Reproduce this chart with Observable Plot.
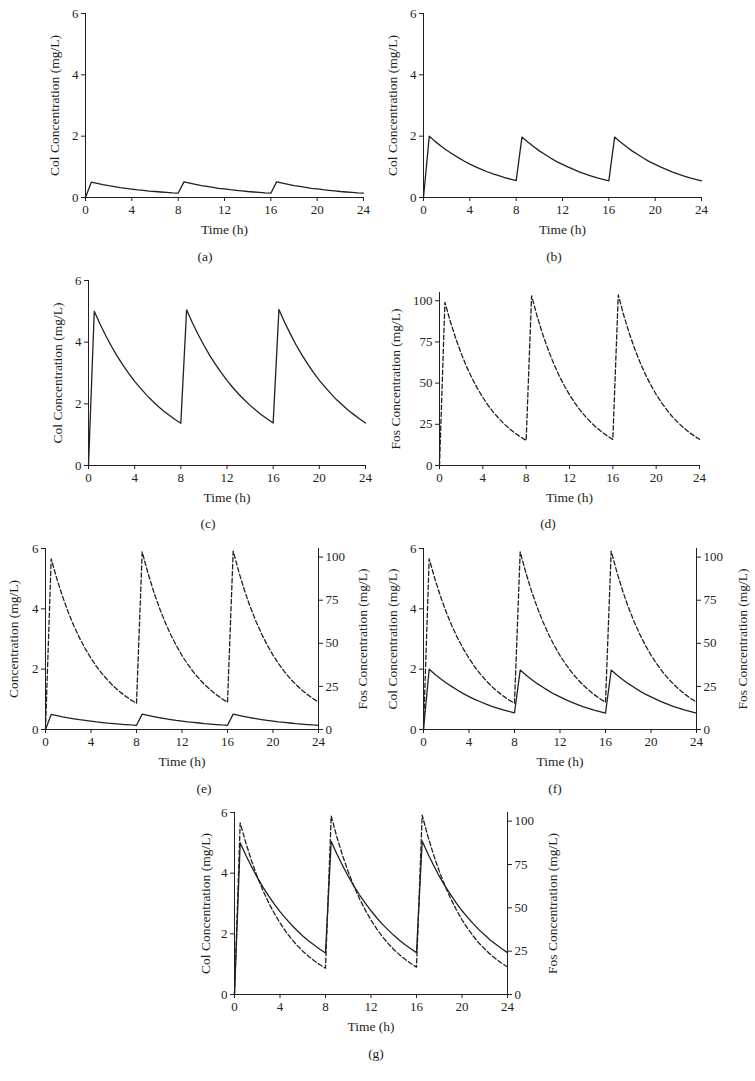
<!DOCTYPE html>
<html><head><meta charset="utf-8">
<script src="https://cdn.jsdelivr.net/npm/d3@7"></script>
<script src="https://cdn.jsdelivr.net/npm/@observablehq/plot@0.6"></script>
<style>
html,body{margin:0;padding:0;background:#fff;overflow:hidden;}
#fig{position:relative;width:755px;height:1081px;overflow:hidden;font-family:"Liberation Serif","Times New Roman",serif;color:#231f20;}
.cap{position:absolute;font-size:13.5px;transform:translate(-50%,-50%);white-space:nowrap;}
</style></head><body><div id="fig"></div>
<script>
const hours = [0,0.5,1,1.5,2,2.5,3,3.5,4,4.5,5,5.5,6,6.5,7,7.5,8,8.5,9,9.5,10,10.5,11,11.5,12,12.5,13,13.5,14,14.5,15,15.5,16,16.5,17,17.5,18,18.5,19,19.5,20,20.5,21,21.5,22,22.5,23,23.5,24];
const colLow = [0,0.50,0.46,0.42,0.385,0.355,0.325,0.30,0.275,0.25,0.23,0.21,0.195,0.18,0.165,0.15,0.14,0.51,0.47,0.43,0.39,0.36,0.33,0.30,0.28,0.255,0.235,0.215,0.195,0.18,0.165,0.15,0.14,0.51,0.47,0.43,0.39,0.36,0.33,0.30,0.28,0.255,0.235,0.215,0.195,0.18,0.165,0.15,0.14];
const colMid = [0,2.00,1.83,1.68,1.54,1.42,1.30,1.19,1.09,1.00,0.92,0.84,0.77,0.71,0.65,0.60,0.55,1.97,1.81,1.66,1.52,1.40,1.28,1.17,1.08,0.99,0.91,0.83,0.76,0.70,0.64,0.59,0.54,1.97,1.81,1.66,1.52,1.40,1.28,1.17,1.08,0.99,0.91,0.83,0.76,0.70,0.64,0.59,0.54];
const colHigh = [0,5.00,4.59,4.21,3.86,3.54,3.25,2.98,2.73,2.51,2.30,2.11,1.93,1.77,1.63,1.49,1.37,5.05,4.63,4.25,3.90,3.57,3.28,3.01,2.76,2.53,2.32,2.13,1.95,1.79,1.64,1.51,1.38,5.06,4.64,4.26,3.90,3.58,3.29,3.01,2.76,2.54,2.33,2.13,1.96,1.79,1.65,1.51,1.38];
const fos = [0,99,87.4,77.1,68.0,60.0,53.0,46.8,41.3,36.4,32.1,28.4,25.0,22.1,19.5,17.2,15.2,103,90.9,80.2,70.8,62.5,55.1,48.7,42.9,37.9,33.4,29.5,26.0,23.0,20.3,17.9,15.8,103.5,91.3,80.6,71.1,62.8,55.4,48.9,43.1,38.1,33.6,29.6,26.2,23.1,20.4,18.0,15.9];
const timeTicks = [0,4,8,12,16,20,24];
const colTicks = [0,2,4,6];
const fosTicks = [0,25,50,75,100];
const colDomain = [0,6];
const fosDomain = [0,105];
const xLabel = "Time (h)";
const colLabel = "Col Concentration (mg/L)";
const concLabel = "Concentration (mg/L)";
const fosLabel = "Fos Concentration (mg/L)";

const fig = document.getElementById("fig");
const INK = "#231f20";
const FONT = '"Liberation Serif", "Times New Roman", serif';
const mL = 60, mR = 60, mT = 10, mB = 50;
const fmt = d => String(d);

function layer(o) {
  const data = hours.map((t, i) => ({t, v: o.values[i]}));
  const marks = [];
  marks.push(Plot.ruleX([o.anchor === "right" ? 24 : 0], {stroke: INK, strokeWidth: 1}));
  if (o.xAxis) {
    marks.push(Plot.ruleY([0], {stroke: INK, strokeWidth: 1}));
    marks.push(Plot.axisX({ticks: timeTicks, tickFormat: fmt, tickSize: 4, tickPadding: 3, label: null, fontSize: 13}));
    marks.push(Plot.text([xLabel], {frameAnchor: "bottom", textAnchor: "middle", dy: 36, fontSize: 13.5, fill: INK}));
  }
  marks.push(Plot.axisY({anchor: o.anchor, ticks: o.ticks, tickFormat: fmt, tickSize: 4, tickPadding: 3, label: null, fontSize: 13}));
  marks.push(Plot.line(data, {x: "t", y: "v", stroke: INK, strokeWidth: 1.3, strokeDasharray: o.dashed ? "4.5,2.5" : null}));
  marks.push(Plot.text([o.yLabel], {frameAnchor: o.anchor, textAnchor: "middle", rotate: -90, dx: o.labelOff, fontSize: 13.5, fill: INK}));
  const svg = Plot.plot({
    width: o.w + mL + mR, height: o.h + mT + mB,
    marginLeft: mL, marginRight: mR, marginTop: mT, marginBottom: mB,
    x: {domain: [0, 24], axis: o.xAxis ? undefined : null},
    y: {domain: o.domain},
    style: {background: "transparent", color: INK, fontFamily: FONT, fontSize: "13px", overflow: "visible"},
    marks
  });
  svg.setAttribute("font-family", FONT);
  svg.style.position = "absolute";
  svg.style.left = (o.x - mL) + "px";
  svg.style.top = (o.y - mT) + "px";
  svg.style.maxWidth = "none";
  fig.appendChild(svg);
}

function caption(text, x, y) {
  const d = document.createElement("div");
  d.className = "cap";
  d.textContent = text;
  d.style.left = x + "px";
  d.style.top = y + "px";
  fig.appendChild(d);
}

// (a)
layer({x: 85, y: 13, w: 278, h: 184, domain: colDomain, ticks: colTicks, anchor: "left", values: colLow, yLabel: colLabel, labelOff: -31, xAxis: true});
caption("(a)", 205, 257);
// (b)
layer({x: 423, y: 13, w: 278, h: 184, domain: colDomain, ticks: colTicks, anchor: "left", values: colMid, yLabel: colLabel, labelOff: -31, xAxis: true});
caption("(b)", 554, 257);
// (c)
layer({x: 88, y: 280, w: 277, h: 185, domain: colDomain, ticks: colTicks, anchor: "left", values: colHigh, yLabel: colLabel, labelOff: -31, xAxis: true});
caption("(c)", 208, 524);
// (d)
layer({x: 439, y: 292, w: 260, h: 173, domain: fosDomain, ticks: fosTicks, anchor: "left", values: fos, dashed: true, yLabel: fosLabel, labelOff: -44, xAxis: true});
caption("(d)", 548, 524);
// (e)
layer({x: 45, y: 548, w: 273, h: 181, domain: colDomain, ticks: colTicks, anchor: "left", values: colLow, yLabel: concLabel, labelOff: -32, xAxis: true});
layer({x: 45, y: 548, w: 273, h: 181, domain: fosDomain, ticks: fosTicks, anchor: "right", values: fos, dashed: true, yLabel: fosLabel, labelOff: 44, xAxis: false});
caption("(e)", 204, 789);
// (f)
layer({x: 423, y: 548, w: 273, h: 181, domain: colDomain, ticks: colTicks, anchor: "left", values: colMid, yLabel: colLabel, labelOff: -31, xAxis: true});
layer({x: 423, y: 548, w: 273, h: 181, domain: fosDomain, ticks: fosTicks, anchor: "right", values: fos, dashed: true, yLabel: fosLabel, labelOff: 46, xAxis: false});
caption("(f)", 555, 789);
// (g)
layer({x: 234, y: 812, w: 273, h: 182, domain: colDomain, ticks: colTicks, anchor: "left", values: colHigh, yLabel: colLabel, labelOff: -29, xAxis: true});
layer({x: 234, y: 812, w: 273, h: 182, domain: fosDomain, ticks: fosTicks, anchor: "right", values: fos, dashed: true, yLabel: fosLabel, labelOff: 45, xAxis: false});
caption("(g)", 376, 1054);
</script></body></html>
